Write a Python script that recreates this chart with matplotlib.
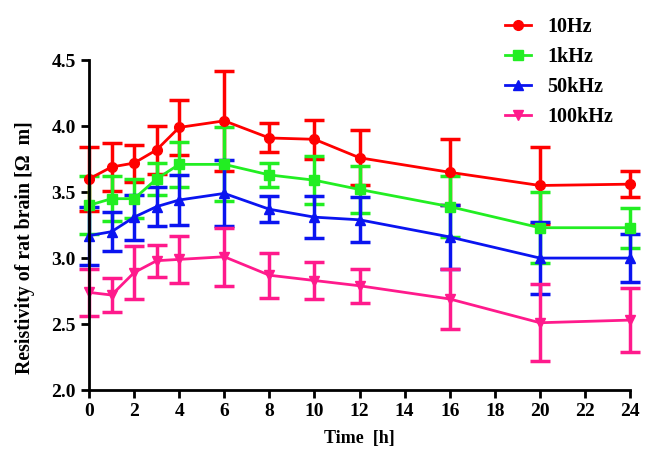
import numpy as np
import matplotlib.pyplot as plt

plt.rcParams['font.family'] = 'Liberation Serif'
plt.rcParams['font.weight'] = 'bold'

# tiempo en horas
tiempo = [0, 1, 2, 3, 4, 6, 8, 10, 12, 16, 20, 24]

# resistividad media y error de cada frecuencia
r_10hz = [3.60, 3.69, 3.72, 3.82, 3.99, 4.04, 3.91, 3.90, 3.76, 3.65, 3.55, 3.56]
e_10hz = [0.24, 0.18, 0.14, 0.18, 0.21, 0.38, 0.11, 0.15, 0.21, 0.25, 0.29, 0.10]

r_1khz = [3.40, 3.45, 3.45, 3.60, 3.71, 3.71, 3.63, 3.59, 3.52, 3.39, 3.23, 3.23]
e_1khz = [0.22, 0.17, 0.15, 0.12, 0.17, 0.28, 0.09, 0.18, 0.18, 0.23, 0.27, 0.15]

r_50khz = [3.17, 3.20, 3.31, 3.39, 3.44, 3.49, 3.37, 3.31, 3.29, 3.16, 3.00, 3.00]
e_50khz = [0.22, 0.15, 0.17, 0.15, 0.19, 0.25, 0.10, 0.16, 0.17, 0.24, 0.27, 0.18]

r_100khz = [2.74, 2.72, 2.89, 2.98, 2.99, 3.01, 2.87, 2.83, 2.79, 2.69, 2.51, 2.53]
e_100khz = [0.18, 0.13, 0.20, 0.12, 0.18, 0.22, 0.17, 0.14, 0.13, 0.23, 0.29, 0.24]

etiquetas = ['10Hz', '1kHz', '50kHz', '100kHz']
colores = ['#ff0000', '#22ee22', '#0a14f0', '#ff1a8c']
marcadores = ['o', 's', '^', 'v']
series = [(r_10hz, e_10hz), (r_1khz, e_1khz), (r_50khz, e_50khz), (r_100khz, e_100khz)]

fig = plt.figure(figsize=(6.57, 4.66), dpi=100)
ax = fig.add_axes([0.1355, 0.163, 0.8235, 0.708])

lineas = []
for (r, e), lab, c, m in zip(series, etiquetas, colores, marcadores):
    cont = ax.errorbar(tiempo, r, yerr=e, color=c, marker=m, markersize=7, linewidth=2,
                       elinewidth=2.5, capsize=7, capthick=2.5, label=lab, clip_on=False)
    lineas.append(cont.lines[0])

ax.set_xlim(0, 24)
ax.set_ylim(2.0, 4.5)
ax.set_xticks(np.arange(0, 25, 2))
ax.set_yticks(np.arange(2.0, 4.6, 0.5))
ax.set_yticklabels(['2.0', '2.5', '3.0', '3.5', '4.0', '4.5'])
ax.spines['top'].set_visible(False)
ax.spines['right'].set_visible(False)
ax.spines['left'].set_linewidth(2)
ax.spines['bottom'].set_linewidth(2)
ax.tick_params(width=2, length=6, labelsize=14)
for t in ax.get_xticklabels() + ax.get_yticklabels():
    t.set_fontweight('bold')

ax.set_xlabel('Time  [h]', fontsize=13, fontweight='bold', labelpad=7)
ax.set_ylabel('Resistivity of rat brain [Ω  m]', fontsize=14.3, fontweight='bold')
ax.yaxis.set_label_coords(-0.1, 0.433)

ley = fig.legend(lineas, etiquetas, loc='upper left', bbox_to_anchor=(0.756, 0.981),
                 frameon=False, handlelength=1.3, labelspacing=0.5,
                 borderaxespad=0, prop={'weight': 'bold', 'size': 14.5})

plt.savefig('out.png', dpi=100)
